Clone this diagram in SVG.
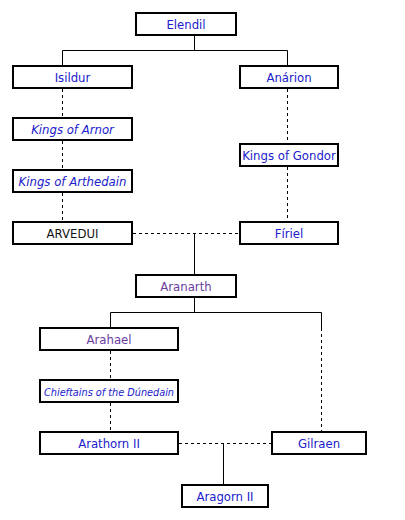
<svg xmlns="http://www.w3.org/2000/svg" width="405" height="520" viewBox="0 0 405 520">
<style>
.box{fill:#fff;stroke:#000;stroke-width:2}
.t{font-family:"DejaVu Sans Condensed","DejaVu Sans",sans-serif;font-stretch:condensed;font-size:13px;text-anchor:middle;fill:#2020cc}
.i{font-style:italic}
.p{fill:#6a3ca0}
.k{fill:#111}
.s{stroke:#000;stroke-width:1;fill:none}
.d{stroke:#000;stroke-width:1;fill:none;stroke-dasharray:3,3}
</style>
<rect width="405" height="520" fill="#fff"/>
<g id="connectors">
<path class="s" d="M194.5 36V50.5M62.5 50.5H287.5M62.5 50.5V66M287.5 50.5V66"/>
<path class="d" d="M62.5 89V118M62.5 141V170M62.5 193V222"/>
<path class="d" d="M287.5 89V144M287.5 167V222"/>
<path class="d" d="M133 233.5H239"/>
<path class="s" d="M194.5 233.5V275"/>
<path class="s" d="M194.5 298V312.5M110.5 312.5H321.5M110.5 312.5V328M321.5 312.5V328"/>
<path class="d" d="M321.5 328V432"/>
<path class="d" d="M110.5 351V380M110.5 403V432"/>
<path class="d" d="M179 443.5H271"/>
<path class="s" d="M223.5 443.5V485"/>
</g>
<g id="elendil"><rect class="box" x="136" y="13" width="100" height="22"/><text class="t" x="186" y="29">Elendil</text></g>
<g id="isildur"><rect class="box" x="13" y="66" width="119" height="22"/><text class="t" x="72.5" y="82">Isildur</text></g>
<g id="anarion"><rect class="box" x="240" y="66" width="98" height="22"/><text class="t" x="289" y="82">Anárion</text></g>
<g id="kings-arnor"><rect class="box" x="13" y="118" width="119" height="22"/><text class="t i" x="72.5" y="134">Kings of Arnor</text></g>
<g id="kings-gondor"><rect class="box" x="240" y="144" width="98" height="22"/><text class="t" x="289" y="160">Kings of Gondor</text></g>
<g id="kings-arthedain"><rect class="box" x="13" y="170" width="119" height="22"/><text class="t i" x="72.5" y="186">Kings of Arthedain</text></g>
<g id="arvedui"><rect class="box" x="13" y="222" width="119" height="22"/><text class="t k" x="72.5" y="238">ARVEDUI</text></g>
<g id="firiel"><rect class="box" x="240" y="222" width="98" height="22"/><text class="t" x="289" y="238">Fíriel</text></g>
<g id="aranarth"><rect class="box" x="136" y="275" width="100" height="22"/><text class="t p" x="186" y="291">Aranarth</text></g>
<g id="arahael"><rect class="box" x="40" y="328" width="138" height="22"/><text class="t p" x="109" y="344">Arahael</text></g>
<g id="chieftains"><rect class="box" x="40" y="380" width="138" height="22"/><text class="t i" x="109" y="395.5" style="font-size:10.8px">Chieftains of the Dúnedain</text></g>
<g id="arathorn"><rect class="box" x="40" y="432" width="138" height="22"/><text class="t" x="109" y="448">Arathorn II</text></g>
<g id="gilraen"><rect class="box" x="272" y="432" width="94" height="22"/><text class="t" x="319" y="448">Gilraen</text></g>
<g id="aragorn"><rect class="box" x="182" y="485" width="86" height="22"/><text class="t" x="225" y="501">Aragorn II</text></g>
</svg>
